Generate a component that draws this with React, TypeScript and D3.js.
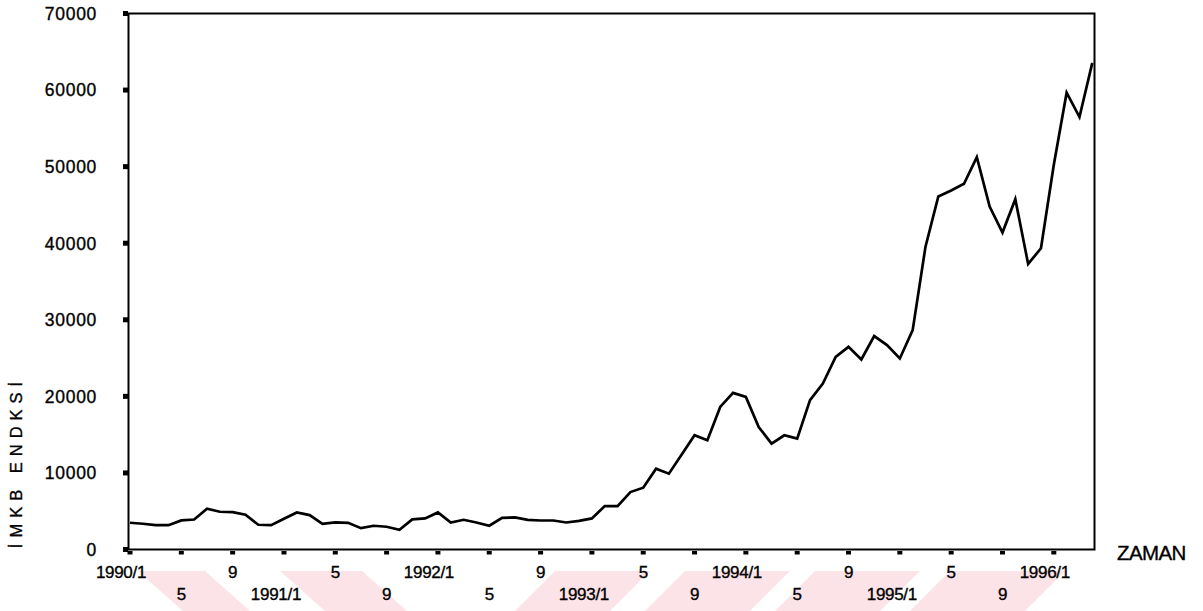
import React from "react";
import * as d3 from "d3";

// Monthly İMKB index, 1990/1 .. 1996/4
const monthIndex: number[] = Array.from({ length: 76 }, (_, i) => i);
const imkbValues: number[] = [
  3490, 3360, 3180, 3180, 3800, 3920, 5320, 4930, 4890, 4540, 3230, 3180,
  4010, 4840, 4490, 3360, 3530, 3490, 2790, 3100, 2970, 2580, 3930, 4060,
  4840, 3530, 3880, 3530, 3100, 4140, 4190, 3880, 3790, 3790, 3530, 3740,
  4060, 5670, 5670, 7500, 8070, 10560, 9900, 12400, 14920, 14260, 18620, 20450,
  19930, 16000, 13830, 14920, 14480, 19500, 21680, 25160, 26470, 24820, 27870, 26690,
  24950, 28650, 39550, 46100, 46880, 47760, 51250, 44790, 41390, 45750, 37290, 39340,
  50240, 59660, 56480, 63550,
];

const yTicks: number[] = [0, 10000, 20000, 30000, 40000, 50000, 60000, 70000];
const xTickIdx: number[] = [0, 4, 8, 12, 16, 20, 24, 28, 32, 36, 40, 44, 48, 52, 56, 60, 64, 68, 72];
const row1Idx: number[] = [0, 8, 16, 24, 32, 40, 48, 56, 64, 72];
const row1Labels: string[] = ["1990/1", "9", "5", "1992/1", "9", "5", "1994/1", "9", "5", "1996/1"];
const row2Idx: number[] = [4, 12, 20, 28, 36, 44, 52, 60, 68];
const row2Labels: string[] = ["5", "1991/1", "9", "5", "1993/1", "9", "5", "1995/1", "9"];

const yTitle = "İMKB ENDKSİ";
const xTitle = "ZAMAN";

export default function App() {
  const W = 1203;
  const H = 611;
  const left = 128.5;
  const right = 1094.5;
  const top = 13.5;
  const bottom = 549.5;

  const x = d3.scaleLinear().domain([0, 75]).range([130, 1092.3]);
  const y = d3.scaleLinear().domain([0, 70000]).range([bottom, top]);

  const line = d3
    .line<number>()
    .x((_, i) => x(monthIndex[i]))
    .y((d) => y(d));

  const font = "'Liberation Sans', Arial, sans-serif";

  // watermark stripes (scan artifact), pink parallelograms
  const stripes: { t0: number; t1: number; s: number }[] = [
    { t0: 138, t1: 205, s: 45 },
    { t0: 280, t1: 362, s: 45 },
    { t0: 555, t1: 650, s: -40 },
    { t0: 685, t1: 790, s: -40 },
    { t0: 815, t1: 920, s: -40 },
    { t0: 950, t1: 1065, s: -40 },
  ];

  const isYear = (s: string) => s.includes("/");
  const textStroke = { stroke: "#000", strokeWidth: 0.35 };

  return (
    <svg
      width={W}
      height={H}
      viewBox={`0 0 ${W} ${H}`}
      style={{ position: "absolute", left: 0, top: 0, background: "#fff" }}
    >
      <rect x={0} y={0} width={W} height={H} fill="#fff" />
      <g>
        {stripes.map((s, i) => (
          <polygon
            key={i}
            points={`${s.t0},571 ${s.t1},571 ${s.t1 + s.s},611 ${s.t0 + s.s},611`}
            fill="#fce3e8"
          />
        ))}
      </g>

      {/* frame */}
      <rect
        x={left}
        y={top}
        width={right - left}
        height={bottom - top}
        fill="none"
        stroke="#000"
        strokeWidth={2}
      />

      {/* y ticks */}
      {yTicks.map((t) => (
        <g key={t}>
          <rect x={123} y={y(t) - 2.5} width={5} height={5} fill="#000" />
          <text
            x={97}
            y={y(t)}
            dy="0.36em"
            textAnchor="end"
            fontFamily={font}
            fontSize={17.5}
            letterSpacing={0.7}
            fill="#000"
            {...textStroke}
          >
            {t}
          </text>
        </g>
      ))}

      {/* x ticks */}
      {xTickIdx.map((t) => (
        <rect key={t} x={x(t) - 2.5} y={551} width={5} height={3.5} fill="#000" />
      ))}
      {row1Idx.map((t, i) => (
        <text
          key={"r1" + t}
          x={x(t) + (isYear(row1Labels[i]) ? -9 : 0)}
          y={577.5}
          textAnchor="middle"
          fontFamily={font}
          fontSize={17}
          letterSpacing={-0.3}
          fill="#000"
          {...textStroke}
        >
          {row1Labels[i]}
        </text>
      ))}
      {row2Idx.map((t, i) => (
        <text
          key={"r2" + t}
          x={x(t) + (isYear(row2Labels[i]) ? -8 : 0)}
          y={599.5}
          textAnchor="middle"
          fontFamily={font}
          fontSize={17}
          letterSpacing={-0.3}
          fill="#000"
          {...textStroke}
        >
          {row2Labels[i]}
        </text>
      ))}

      {/* data line */}
      <path
        d={line(imkbValues) || ""}
        fill="none"
        stroke="#000"
        strokeWidth={2.7}
        strokeLinejoin="miter"
      />

      {/* titles */}
      <text
        transform="translate(22,462) rotate(-90)"
        textAnchor="middle"
        fontFamily={font}
        fontSize={16.5}
        letterSpacing={6}
        fill="#000"
        {...textStroke}
      >
        {yTitle}
      </text>
      <text
        x={1117}
        y={560}
        fontFamily={font}
        fontSize={20.5}
        letterSpacing={-0.6}
        fill="#000"
        {...textStroke}
      >
        {xTitle}
      </text>
    </svg>
  );
}
